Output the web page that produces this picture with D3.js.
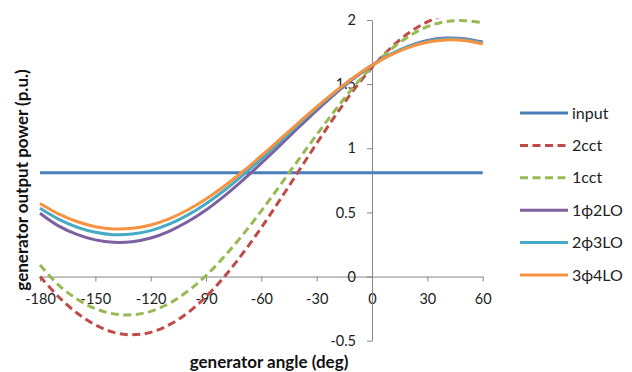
<!DOCTYPE html>
<html>
<head>
<meta charset="utf-8">
<script src="https://cdn.jsdelivr.net/npm/d3@7"></script>
<style>
  html, body { margin: 0; padding: 0; background: #ffffff; }
  svg { display: block; font-family: Lato, "Open Sans", sans-serif; }
</style>
</head>
<body>
<svg id="chart" width="632" height="372"></svg>
<script>
// Generator angle samples (deg)
const angles = [-180, -170, -160, -150, -140, -130, -120, -110, -100, -90, -80, -70, -60,
                -50, -40, -30, -20, -10, 0, 10, 20, 30, 40, 50, 60];

// Output power curves (p.u.)
const input   = [0.81, 0.81, 0.81, 0.81, 0.81, 0.81, 0.81, 0.81, 0.81, 0.81, 0.81, 0.81, 0.81,
                 0.81, 0.81, 0.81, 0.81, 0.81, 0.81, 0.81, 0.81, 0.81, 0.81, 0.81, 0.81];
const cct2    = [0.000, -0.157, -0.284, -0.377, -0.435, -0.454, -0.435, -0.377, -0.284, -0.157, 0.000, 0.182, 0.382,
                 0.596, 0.817, 1.038, 1.252, 1.453, 1.630, 1.780, 1.900, 1.985, 2.040, 2.060, 2.045];
const cct1    = [0.090, -0.065, -0.175, -0.250, -0.291, -0.298, -0.271, -0.209, -0.115, 0.008, 0.157, 0.327, 0.512,
                 0.708, 0.908, 1.106, 1.297, 1.478, 1.635, 1.768, 1.873, 1.948, 1.988, 1.995, 1.980];
const lo1p2   = [0.494, 0.395, 0.329, 0.286, 0.267, 0.272, 0.301, 0.353, 0.427, 0.519, 0.629, 0.752, 0.884,
                 1.021, 1.160, 1.296, 1.425, 1.543, 1.646, 1.731, 1.797, 1.840, 1.859, 1.854, 1.828];
const lo2p3   = [0.532, 0.448, 0.386, 0.345, 0.326, 0.331, 0.358, 0.408, 0.479, 0.568, 0.673, 0.791, 0.918,
                 1.050, 1.183, 1.314, 1.437, 1.550, 1.650, 1.732, 1.794, 1.835, 1.854, 1.849, 1.822];
const lo3p4   = [0.570, 0.489, 0.429, 0.389, 0.371, 0.376, 0.402, 0.450, 0.519, 0.605, 0.706, 0.819, 0.942,
                 1.069, 1.197, 1.323, 1.442, 1.551, 1.647, 1.726, 1.786, 1.826, 1.844, 1.840, 1.813];

const seriesNames = ["input", "2cct", "1cct", "1\u03d52LO", "2\u03d53LO", "3\u03d54LO"];
const seriesData = [input, cct2, cct1, lo1p2, lo2p3, lo3p4];
const seriesColors = ["#4a7ebb", "#be4b48", "#98b954", "#7d60a0", "#46aac5", "#f69240"];
const seriesDash = [null, "8,4.5", "8,4.5", null, null, null];

const xTicks = [-180, -150, -120, -90, -60, -30, 0, 30, 60];
const yTicks = [-0.5, 0, 0.5, 1, 1.5, 2];

const svg = d3.select("#chart");
const W = 632, H = 372;
svg.append("rect").attr("width", W).attr("height", H).attr("fill", "#ffffff");

const x = d3.scaleLinear().domain([-180, 60]).range([40, 482.7]);
const y = d3.scaleLinear().domain([-0.5, 2]).range([340.7, 20]);

const axisColor = "#868686";
const fontSize = 14.5;

// X axis along the zero line
const gx = svg.append("g")
  .attr("transform", `translate(0,${y(0)})`)
  .call(d3.axisBottom(x).tickValues(xTicks).tickSize(5).tickSizeOuter(0)
        .tickPadding(12).tickFormat(d => String(d)));

// Y axis through zero angle
const gy = svg.append("g")
  .attr("transform", `translate(${x(0)},0)`)
  .call(d3.axisLeft(y).tickValues(yTicks).tickSize(5).tickSizeOuter(0)
        .tickPadding(11).tickFormat(d => String(d)));

[gx, gy].forEach(g => {
  g.selectAll(".domain").attr("stroke", axisColor).attr("stroke-width", 1);
  g.selectAll(".tick line").attr("stroke", axisColor).attr("stroke-width", 1);
  g.selectAll(".tick text").attr("fill", "#222").style("font-size", fontSize + "px")
    .style("font-family", "Lato, 'Open Sans', sans-serif");
});

// Plot area clip
svg.append("defs").append("clipPath").attr("id", "plotClip")
  .append("rect").attr("x", x(-180) - 3).attr("y", y(2) - 1.5)
  .attr("width", x(60) - x(-180) + 6).attr("height", y(-0.5) - y(2) + 3);

const line = d3.line()
  .x((d, i) => x(angles[i]))
  .y(d => y(d))
  .curve(d3.curveCatmullRom.alpha(0.5));

const plot = svg.append("g").attr("clip-path", "url(#plotClip)");
seriesData.forEach((vals, k) => {
  plot.append("path")
    .datum(vals)
    .attr("d", line)
    .attr("fill", "none")
    .attr("stroke", seriesColors[k])
    .attr("stroke-width", 3)
    .attr("stroke-dasharray", seriesDash[k])
    .attr("stroke-linecap", "butt")
    .attr("stroke-linejoin", "round");
});

// Axis titles
svg.append("text")
  .attr("x", 269).attr("y", 368)
  .attr("text-anchor", "middle")
  .style("font-size", "17px").style("font-weight", "bold").attr("fill", "#111")
  .text("generator angle (deg)");

svg.append("text")
  .attr("transform", "translate(22.5,180) rotate(-90)")
  .attr("dy", "0.35em")
  .attr("text-anchor", "middle")
  .style("font-size", "17px").style("font-weight", "bold").attr("fill", "#111")
  .text("generator output power (p.u.)");

// Legend
const legend = svg.append("g");
const legendY = d3.scaleLinear().domain([0, 5]).range([113, 275]);
seriesNames.forEach((name, k) => {
  const yy = legendY(k);
  legend.append("line")
    .attr("x1", 520).attr("x2", 568).attr("y1", yy).attr("y2", yy)
    .attr("stroke", seriesColors[k]).attr("stroke-width", 3)
    .attr("stroke-dasharray", seriesDash[k]);
  legend.append("text")
    .attr("x", 572).attr("y", yy).attr("dy", "0.35em")
    .style("font-size", "16px").attr("fill", "#222")
    .text(name);
});
</script>
</body>
</html>
